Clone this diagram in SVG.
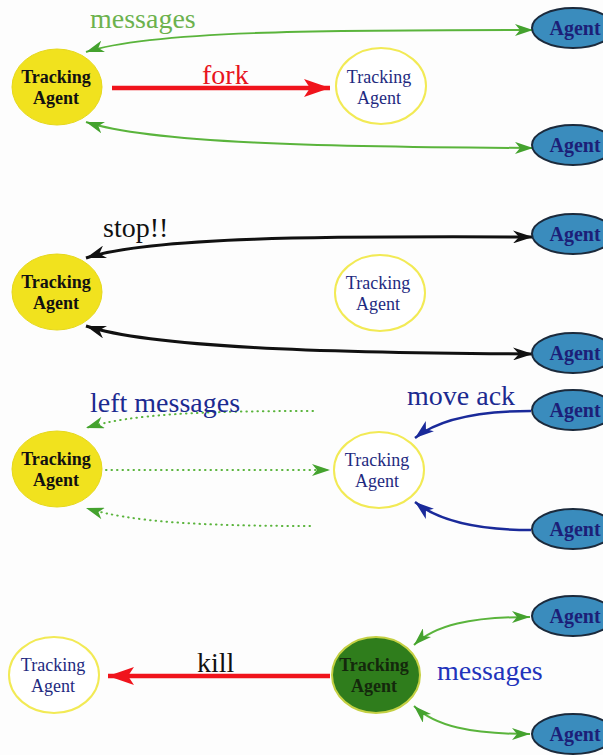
<svg xmlns="http://www.w3.org/2000/svg" width="603" height="755" viewBox="0 0 603 755">
  <style>
    .t { font-family: "Liberation Serif", "Times New Roman", serif; }
    .ta { fill: #f1e21e; stroke: #e6d81a; stroke-width: 1; }
    .tw { fill: #ffffff; stroke: #f2ea55; stroke-width: 2; }
    .tg { fill: #2f7d1c; stroke: #c4d043; stroke-width: 2; }
    .ag { fill: #3a8cbd; stroke: #1b2a3c; stroke-width: 2; }
    .node-txt { font-size: 18px; text-anchor: middle; }
    .ag-txt { font-size: 20px; text-anchor: middle; fill: #1c1f78; font-weight: bold; }
    .lbl { font-size: 28px; }
    .g { fill: none; stroke: #5ab43c; stroke-width: 2; }
    .k { fill: none; stroke: #111111; stroke-width: 3; }
    .r { fill: none; stroke: #f0141c; stroke-width: 4.5; }
    .b { fill: none; stroke: #1a2a9a; stroke-width: 2.5; }
    .d { fill: none; stroke: #5ab43c; stroke-width: 2; stroke-dasharray: 0.5 5; stroke-linecap: round; }
  </style>
  <defs>
    <marker id="ahG" viewBox="0 0 18 12" refX="18" refY="6" markerWidth="18" markerHeight="12" markerUnits="userSpaceOnUse" orient="auto-start-reverse">
      <path d="M0,0 L18,6 L0,12 L5,6 z" fill="#44a22e"/>
    </marker>
    <marker id="ahK" viewBox="0 0 20 13" refX="20" refY="6.5" markerWidth="20" markerHeight="13" markerUnits="userSpaceOnUse" orient="auto-start-reverse">
      <path d="M0,0 L20,6.5 L0,13 L6,6.5 z" fill="#111111"/>
    </marker>
    <marker id="ahR" viewBox="0 0 26 18" refX="26" refY="9" markerWidth="26" markerHeight="18" markerUnits="userSpaceOnUse" orient="auto">
      <path d="M0,0 L26,9 L0,18 L6,9 z" fill="#f0141c"/>
    </marker>
    <marker id="ahB" viewBox="0 0 19 13" refX="19" refY="6.5" markerWidth="19" markerHeight="13" markerUnits="userSpaceOnUse" orient="auto">
      <path d="M0,0 L19,6.5 L0,13 L5,6.5 z" fill="#1a2a9a"/>
    </marker>
  </defs>

  <rect width="603" height="755" fill="#fdfdfd"/>

  <!-- connectors -->
  <g id="connectors">
    <!-- step 1: fork -->
    <path class="g" d="M86,52 C150,31 320,30 533,30" marker-start="url(#ahG)" marker-end="url(#ahG)"/>
    <path class="g" d="M86,122 C150,143 320,147 533,148" marker-start="url(#ahG)" marker-end="url(#ahG)"/>
    <path class="r" d="M112,88 L330,88" marker-end="url(#ahR)"/>
    <!-- step 2: stop -->
    <path class="k" d="M86,258 C150,237 320,236 533,237" marker-start="url(#ahK)" marker-end="url(#ahK)"/>
    <path class="k" d="M86,326 C150,347 320,353 533,354" marker-start="url(#ahK)" marker-end="url(#ahK)"/>
    <!-- step 3: move -->
    <path class="d" d="M313,411 C200,411 130,414 86,428" marker-end="url(#ahG)"/>
    <path class="d" d="M106,470 L330,470" marker-end="url(#ahG)"/>
    <path class="d" d="M310,526 C200,526 130,522 86,508" marker-end="url(#ahG)"/>
    <path class="b" d="M531,411 C480,411 440,418 415,438" marker-end="url(#ahB)"/>
    <path class="b" d="M531,530 C480,530 440,522 415,502" marker-end="url(#ahB)"/>
    <!-- step 4: kill -->
    <path class="r" d="M330,676 L108,676" marker-end="url(#ahR)"/>
    <path class="g" d="M414,645 C435,625 470,617 530,617" marker-start="url(#ahG)" marker-end="url(#ahG)"/>
    <path class="g" d="M414,706 C435,726 470,734 530,734" marker-start="url(#ahG)" marker-end="url(#ahG)"/>
  </g>

  <!-- labels -->
  <g id="labels" class="t">
    <text class="lbl" x="90" y="28" fill="#6cb24e">messages</text>
    <text class="lbl" x="202" y="84" fill="#e8141e">fork</text>
    <text class="lbl" x="103" y="237" fill="#111111">stop!!</text>
    <text class="lbl" x="90" y="412" fill="#1c2a90">left messages</text>
    <text class="lbl" x="407" y="405" fill="#1c2a90">move ack</text>
    <text class="lbl" x="197" y="672" fill="#111111">kill</text>
    <text class="lbl" x="437" y="680" fill="#2233bb">messages</text>
  </g>

  <!-- step 1 nodes -->
  <g id="ta1" class="t">
    <ellipse class="ta" cx="57" cy="87" rx="45" ry="38"/>
    <text class="node-txt" x="56" y="83" font-weight="bold" font-size="17" fill="#111">Tracking</text>
    <text class="node-txt" x="56" y="104" font-weight="bold" font-size="17" fill="#111">Agent</text>
  </g>
  <g id="tb1" class="t">
    <ellipse class="tw" cx="381" cy="86" rx="45" ry="38"/>
    <text class="node-txt" x="379" y="83" fill="#1e2a80">Tracking</text>
    <text class="node-txt" x="379" y="104" fill="#1e2a80">Agent</text>
  </g>
  <g id="ag1a" class="t">
    <ellipse class="ag" cx="573" cy="28" rx="41" ry="20"/>
    <text class="ag-txt" x="575" y="35">Agent</text>
  </g>
  <g id="ag1b" class="t">
    <ellipse class="ag" cx="573" cy="145" rx="41" ry="20"/>
    <text class="ag-txt" x="575" y="152">Agent</text>
  </g>

  <!-- step 2 nodes -->
  <g id="ta2" class="t">
    <ellipse class="ta" cx="57" cy="292" rx="45" ry="38"/>
    <text class="node-txt" x="56" y="288" font-weight="bold" font-size="17" fill="#111">Tracking</text>
    <text class="node-txt" x="56" y="309" font-weight="bold" font-size="17" fill="#111">Agent</text>
  </g>
  <g id="tb2" class="t">
    <ellipse class="tw" cx="380" cy="293" rx="45" ry="38"/>
    <text class="node-txt" x="378" y="289" fill="#1e2a80">Tracking</text>
    <text class="node-txt" x="378" y="310" fill="#1e2a80">Agent</text>
  </g>
  <g id="ag2a" class="t">
    <ellipse class="ag" cx="573" cy="234" rx="41" ry="20"/>
    <text class="ag-txt" x="575" y="241">Agent</text>
  </g>
  <g id="ag2b" class="t">
    <ellipse class="ag" cx="573" cy="353" rx="41" ry="20"/>
    <text class="ag-txt" x="575" y="360">Agent</text>
  </g>

  <!-- step 3 nodes -->
  <g id="ta3" class="t">
    <ellipse class="ta" cx="57" cy="469" rx="45" ry="38"/>
    <text class="node-txt" x="56" y="465" font-weight="bold" font-size="17" fill="#111">Tracking</text>
    <text class="node-txt" x="56" y="486" font-weight="bold" font-size="17" fill="#111">Agent</text>
  </g>
  <g id="tb3" class="t">
    <ellipse class="tw" cx="379" cy="470" rx="45" ry="38"/>
    <text class="node-txt" x="377" y="466" fill="#1e2a80">Tracking</text>
    <text class="node-txt" x="377" y="487" fill="#1e2a80">Agent</text>
  </g>
  <g id="ag3a" class="t">
    <ellipse class="ag" cx="573" cy="410" rx="41" ry="20"/>
    <text class="ag-txt" x="575" y="417">Agent</text>
  </g>
  <g id="ag3b" class="t">
    <ellipse class="ag" cx="573" cy="529" rx="41" ry="20"/>
    <text class="ag-txt" x="575" y="536">Agent</text>
  </g>

  <!-- step 4 nodes -->
  <g id="ta4" class="t">
    <ellipse class="tw" cx="54" cy="675" rx="45" ry="38"/>
    <text class="node-txt" x="53" y="671" fill="#1e2a80">Tracking</text>
    <text class="node-txt" x="53" y="692" fill="#1e2a80">Agent</text>
  </g>
  <g id="tb4" class="t">
    <ellipse class="tg" cx="376" cy="675" rx="44" ry="38"/>
    <text class="node-txt" x="374" y="671" font-weight="bold" font-size="17" fill="#14280c">Tracking</text>
    <text class="node-txt" x="374" y="692" font-weight="bold" font-size="17" fill="#14280c">Agent</text>
  </g>
  <g id="ag4a" class="t">
    <ellipse class="ag" cx="573" cy="616" rx="41" ry="20"/>
    <text class="ag-txt" x="575" y="623">Agent</text>
  </g>
  <g id="ag4b" class="t">
    <ellipse class="ag" cx="573" cy="734" rx="41" ry="20"/>
    <text class="ag-txt" x="575" y="741">Agent</text>
  </g>
</svg>
